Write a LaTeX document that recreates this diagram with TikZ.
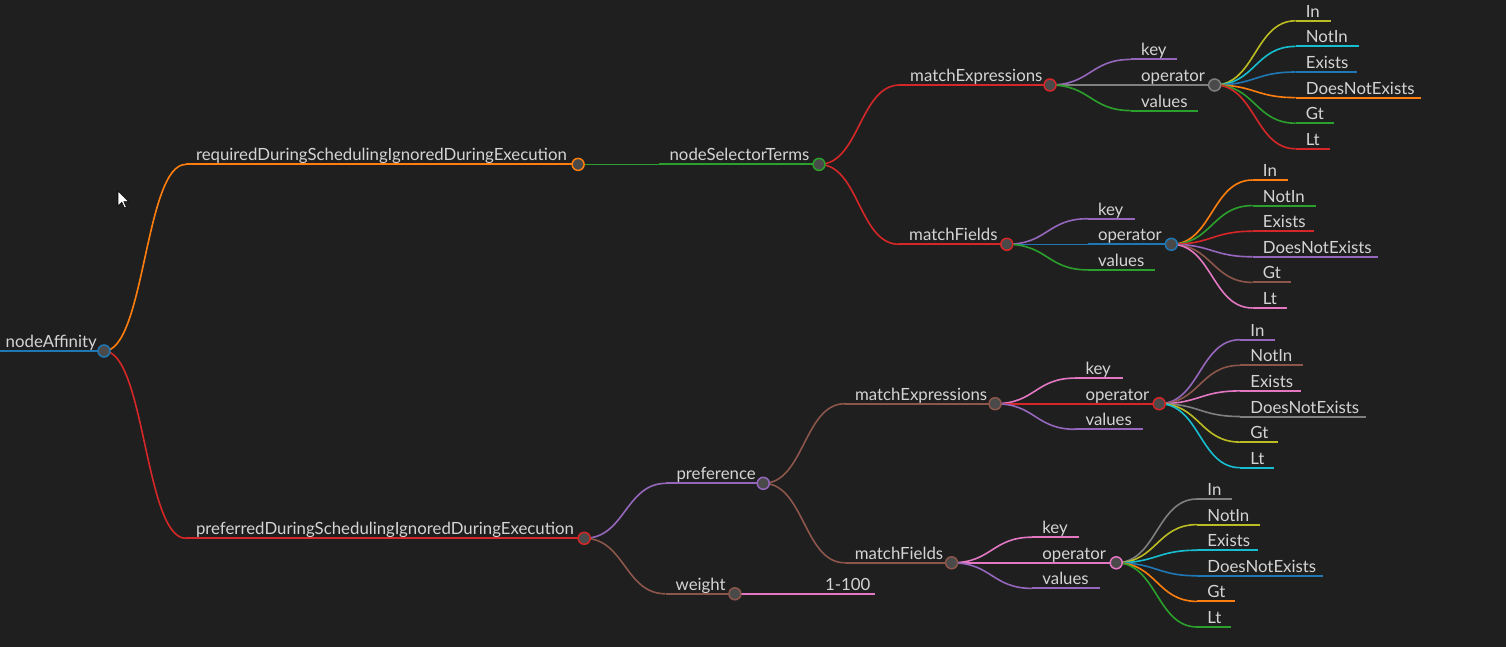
\documentclass[tikz,border=0pt]{standalone}
\usepackage{fontspec}
\setmainfont{Lato}
\usetikzlibrary{calc}
\pgfdeclarelayer{bg}
\pgfdeclarelayer{lines}
\pgfsetlayers{bg,lines,main}
\definecolor{bgc}{HTML}{1F1F1F}
\definecolor{txt}{HTML}{D4D4D4}
\definecolor{dotfill}{HTML}{4A4A4A}
\definecolor{cblue}{HTML}{1F77B4}
\definecolor{corange}{HTML}{FF7F0E}
\definecolor{cgreen}{HTML}{2CA02C}
\definecolor{cred}{HTML}{D62728}
\definecolor{cpurple}{HTML}{9467BD}
\definecolor{cbrown}{HTML}{8C564B}
\definecolor{cpink}{HTML}{E377C2}
\definecolor{cgray}{HTML}{7F7F7F}
\definecolor{colive}{HTML}{BCBD22}
\definecolor{ccyan}{HTML}{17BECF}
\tikzset{
  lbl/.style={anchor=base west, inner sep=0pt, text=txt, font=\fontsize{16.8}{20}\selectfont},
  dot/.style={circle, fill=dotfill, line width=1.5pt, minimum size=12pt, inner sep=0pt},
  nline/.style={line width=2pt},
  link/.style={line width=1.6pt},
  mlink/.style={to path={let \p1=(\tikztostart), \p2=(\tikztotarget) in
     .. controls ({(\x1+\x2)/2},\y1) and ({(\x1+\x2)/2},\y2) .. (\tikztotarget)}}
}
% leaf: name, xs, xend, y, color, text
\newcommand\mleaf[6]{%
  \coordinate (#1-s) at (#2,#4);
  \coordinate (#1-e) at (#3,#4);
  \node[lbl] (#1) at ({#2+10},{#4-3.5}) {#6};
  \begin{pgfonlayer}{lines}\draw[nline,#5] (#1-s) -- (#1-e);\end{pgfonlayer}}
% inner node with circle: name, xs, xcircle, y, color, text
\newcommand\minner[6]{%
  \coordinate (#1-s) at (#2,#4);
  \node[dot,draw=#5] (#1-c) at (#3,#4) {};
  \node[lbl] (#1) at ({#2+10},{#4-3.5}) {#6};
  \begin{pgfonlayer}{lines}\draw[nline,#5] (#1-s) -- (#1-c.center);\end{pgfonlayer}}
% link: parent, child, color
\newcommand\mlk[3]{%
  \begin{pgfonlayer}{lines}\draw[link,#3] (#1-c.center) to[mlink] (#2-s);\end{pgfonlayer}}
% operator children: parent, prefix, xs, y0, five colours (sixth in \mlastcol)
\newcommand\mops[9]{%
  \mleaf{#2a}{#3}{#3+35.2}{#4}{#5}{In}\mlk{#1}{#2a}{#5}%
  \mleaf{#2b}{#3}{#3+62.9}{#4+25.6}{#6}{NotIn}\mlk{#1}{#2b}{#6}%
  \mleaf{#2c}{#3}{#3+61.0}{#4+51.2}{#7}{Exists}\mlk{#1}{#2c}{#7}%
  \mleaf{#2d}{#3}{#3+125.4}{#4+76.8}{#8}{DoesNotExists}\mlk{#1}{#2d}{#8}%
  \mleaf{#2e}{#3}{#3+38.0}{#4+102.4}{#9}{Gt}\mlk{#1}{#2e}{#9}%
  \mleaf{#2f}{#3}{#3+34.1}{#4+128}{\mlastcol}{Lt}\mlk{#1}{#2f}{\mlastcol}}
\begin{document}
\begin{tikzpicture}[x=1pt,y=-1pt]
\begin{pgfonlayer}{bg}
\fill[bgc] (0,0) rectangle (1506,647);
\end{pgfonlayer}
\useasboundingbox (0,0) rectangle (1506,647);

% root
\minner{root}{-4.5}{104}{351}{cblue}{nodeAffinity}

% depth 1
\minner{req}{185.8}{578.1}{164.4}{corange}{requiredDuringSchedulingIgnoredDuringExecution}
\mlk{root}{req}{corange}
\minner{pref}{185.8}{584.2}{538.3}{cred}{preferredDuringSchedulingIgnoredDuringExecution}
\mlk{root}{pref}{cred}

% depth 2
\minner{nst}{659.4}{819}{164.4}{cgreen}{nodeSelectorTerms}
\mlk{req}{nst}{cgreen}
\minner{prefc}{666.3}{763.3}{483.3}{cpurple}{preference}
\mlk{pref}{prefc}{cpurple}
\minner{wt}{665.5}{734.9}{593.8}{cbrown}{weight}
\mlk{pref}{wt}{cbrown}

% depth 3
\minner{meA}{900}{1050}{85}{cred}{matchExpressions}
\mlk{nst}{meA}{cred}
\minner{mfA}{899}{1006.8}{244.3}{cred}{matchFields}
\mlk{nst}{mfA}{cred}
\minner{meB}{844.8}{995.1}{403.7}{cbrown}{matchExpressions}
\mlk{prefc}{meB}{cbrown}
\minner{mfB}{844.7}{951.6}{562.8}{cbrown}{matchFields}
\mlk{prefc}{mfB}{cbrown}
\mleaf{hund}{815}{874.7}{593.8}{cpink}{1-100}
\mlk{wt}{hund}{cpink}

% depth 4
\mleaf{kA}{1131}{1177.4}{59.4}{cpurple}{key}\mlk{meA}{kA}{cpurple}
\minner{oA}{1131}{1214.6}{85}{cgray}{operator}\mlk{meA}{oA}{cgray}
\mleaf{vA}{1131}{1198.4}{110.6}{cgreen}{values}\mlk{meA}{vA}{cgreen}

\mleaf{kB}{1087.8}{1134.5}{218.7}{cpurple}{key}\mlk{mfA}{kB}{cpurple}
\minner{oB}{1087.8}{1171.3}{244.3}{cblue}{operator}\mlk{mfA}{oB}{cblue}
\mleaf{vB}{1087.8}{1155.2}{269.9}{cgreen}{values}\mlk{mfA}{vB}{cgreen}

\mleaf{kC}{1075.3}{1122.5}{378.1}{cpink}{key}\mlk{meB}{kC}{cpink}
\minner{oC}{1075.3}{1159.2}{403.7}{cred}{operator}\mlk{meB}{oC}{cred}
\mleaf{vC}{1075.3}{1142.6}{429.3}{cpurple}{values}\mlk{meB}{vC}{cpurple}

\mleaf{kD}{1032.2}{1078.5}{537.2}{cpink}{key}\mlk{mfB}{kD}{cpink}
\minner{oD}{1032.2}{1116.2}{562.8}{cpink}{operator}\mlk{mfB}{oD}{cpink}
\mleaf{vD}{1032.2}{1099.6}{588.4}{cpurple}{values}\mlk{mfB}{vD}{cpurple}

% depth 5
\def\mlastcol{cred}
\mops{oA}{pA}{1295.6}{20.8}{colive}{ccyan}{cblue}{corange}{cgreen}
\def\mlastcol{cpink}
\mops{oB}{pB}{1252.7}{180.0}{corange}{cgreen}{cred}{cpurple}{cbrown}
\def\mlastcol{ccyan}
\mops{oC}{pC}{1240.2}{339.7}{cpurple}{cbrown}{cpink}{cgray}{colive}
\def\mlastcol{cgreen}
\mops{oD}{pD}{1197.2}{499.0}{cgray}{colive}{ccyan}{cblue}{corange}

% mouse pointer
\filldraw[fill=white, draw=black, line width=0.6pt, line join=miter]
  (118,191) -- (118,206) -- (121.8,202.3) -- (124.5,208) -- (126.4,207.1)
  -- (123.8,201.6) -- (128.6,201.6) -- cycle;
\end{tikzpicture}
\end{document}
